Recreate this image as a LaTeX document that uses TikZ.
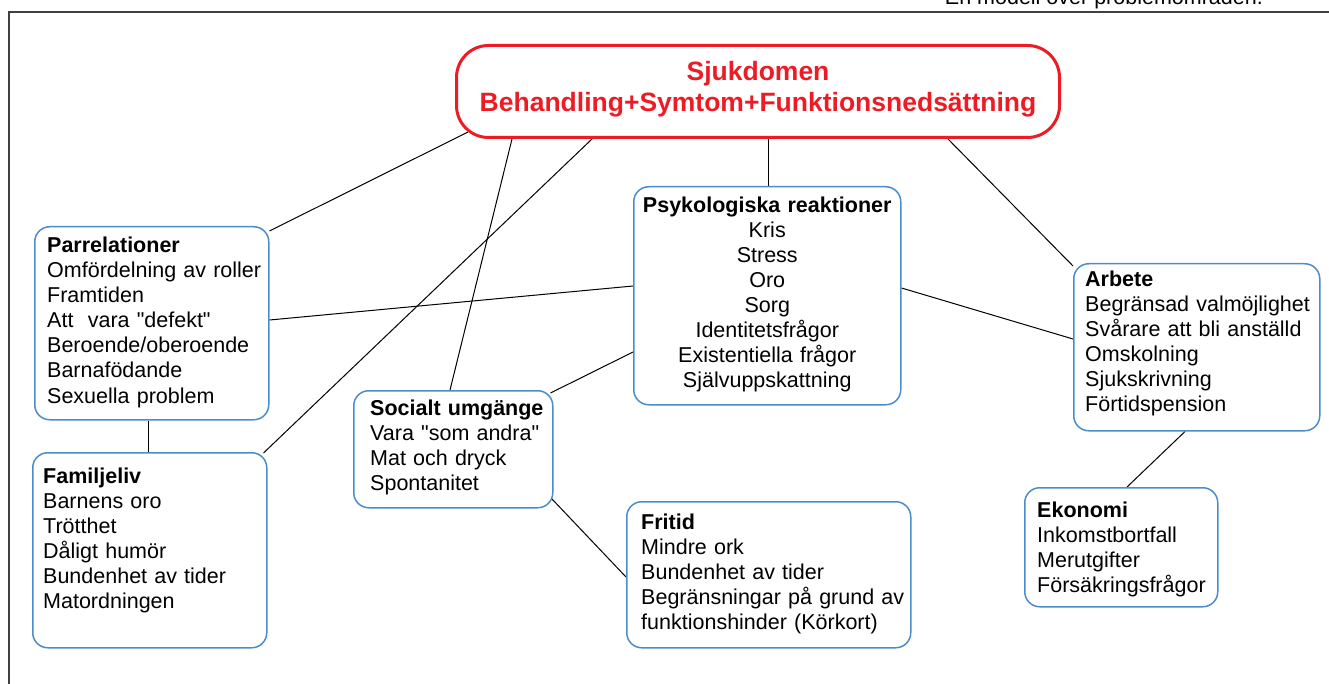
\documentclass[tikz,border=0pt]{standalone}
\usepackage{fontspec}
\setmainfont{Liberation Sans}
\usetikzlibrary{positioning}
\usetikzlibrary{backgrounds}
\definecolor{omradec}{RGB}{74,140,204}
\definecolor{sjukc}{RGB}{237,28,36}
\definecolor{ramc}{RGB}{64,64,64}

\tikzset{
  omrade/.style={anchor=north west, draw=omradec, line width=1.5pt, fill=white, shape=rectangle, rounded corners=15pt, inner sep=0pt},
  omradetxt/.style={anchor=base west, inner sep=0pt, text width=300pt, align=left, font=\fontsize{21.5}{25}\selectfont},
  lank/.style={draw=black, line width=1pt}
}

\begin{document}
\begin{tikzpicture}[x=1pt,y=-1pt]
\useasboundingbox (0,0) rectangle (1329,684);
\clip (0,0) rectangle (1329,684);

\draw[ramc, line width=1.5pt] (9,700) |- (1340,12);
\node[anchor=base east, inner sep=0pt, font=\fontsize{21.5}{25}\selectfont] (rubrik) at (1263,5) {En modell över problemområden.};

\node[anchor=north west, draw=sjukc, line width=3pt, fill=white, rounded corners=32pt, inner sep=0pt, minimum width=603pt, minimum height=92pt]
(sjukdom) at (455,44) {};
\node[anchor=base, inner sep=0pt, text width=600pt, align=center, text=sjukc, font=\bfseries\fontsize{26.5}{31}\selectfont]
(sjukdomtxt) at ([shift={(0,37)}]sjukdom.north) {Sjukdomen\\Behandling+Symtom+Funktionsnedsättning};

\node[omrade, minimum width=267pt, minimum height=218pt] (psyk) at (633,186) {};
\node[anchor=base, inner sep=0pt, text width=267pt, align=center, font=\fontsize{21.5}{25}\selectfont]
(psyktxt) at ([shift={(0,27)}]psyk.north) {\textbf{Psykologiska reaktioner}\\Kris\\Stress\\Oro\\Sorg\\Identitetsfrågor\\Existentiella frågor\\Självuppskattning};

\node[omrade, minimum width=234pt, minimum height=193pt] (parrel) at (34,226) {};
\node[omradetxt] (parreltxt) at ([shift={(13,27)}]parrel.north west)
{\textbf{Parrelationer}\\Omfördelning av roller\\Framtiden\\Att\ \ vara \textquotedbl defekt\textquotedbl\\Beroende/oberoende\\Barnafödande\\Sexuella problem};

\node[omrade, minimum width=234pt, minimum height=195pt] (famil) at (32,452) {};
\node[omradetxt] (familtxt) at ([shift={(11,31)}]famil.north west)
{\textbf{Familjeliv}\\Barnens oro\\Trötthet\\Dåligt humör\\Bundenhet av tider\\Matordningen};

\node[omrade, minimum width=199pt, minimum height=117pt] (social) at (353,390) {};
\node[omradetxt] (socialtxt) at ([shift={(17,25)}]social.north west)
{\textbf{Socialt umgänge}\\Vara \textquotedbl som andra\textquotedbl\\Mat och dryck\\Spontanitet};

\node[omrade, minimum width=284pt, minimum height=146pt] (fritid) at (626,501) {};
\node[omradetxt] (fritidtxt) at ([shift={(15,28)}]fritid.north west)
{\textbf{Fritid}\\Mindre ork\\Bundenhet av tider\\Begränsningar på grund av\\funktionshinder (Körkort)};

\node[omrade, minimum width=246pt, minimum height=167pt] (arbete) at (1073,263) {};
\node[omradetxt] (arbetetxt) at ([shift={(12,24)}]arbete.north west)
{\textbf{Arbete}\\Begränsad valmöjlighet\\Svårare att bli anställd\\Omskolning\\Sjukskrivning\\Förtidspension};

\node[omrade, minimum width=193pt, minimum height=119pt] (ekonomi) at (1024,487) {};
\node[omradetxt] (ekonomitxt) at ([shift={(13,30)}]ekonomi.north west)
{\textbf{Ekonomi}\\Inkomstbortfall\\Merutgifter\\Försäkringsfrågor};

\begin{scope}[on background layer]
\draw[lank] ([shift={(0,5)}]parrel.north east) -- ([shift={(13,-7)}]sjukdom.south west);
\draw[lank] ([shift={(97,0)}]social.north west) -- ([shift={(57,0)}]sjukdom.south west);
\draw[lank] ([shift={(-4,1)}]famil.north east) -- ([shift={(137,0)}]sjukdom.south west);
\draw[lank] ([shift={(1,0)}]psyk.north) -- ([shift={(1,0)}]psyk.north |- sjukdom.south);
\draw[lank] ([shift={(493,0)}]sjukdom.south west) -- ([shift={(0,3)}]arbete.north west);
\draw[lank] ([shift={(0,100)}]psyk.north west) -- ([shift={(0,94)}]parrel.north east);
\draw[lank] ([shift={(0,166)}]psyk.north west) -- ([shift={(-3,3)}]social.north east);
\draw[lank] ([shift={(0,102)}]psyk.north east) -- ([shift={(0,76)}]arbete.north west);
\draw[lank] ([shift={(114,0)}]parrel.south west) coordinate (pf) -- (pf |- famil.north);
\draw[lank] ([shift={(-2,-10)}]social.south east) -- ([shift={(0,76)}]fritid.north west);
\draw[lank] ([shift={(112,0)}]arbete.south west) -- ([shift={(103,0)}]ekonomi.north west);
\end{scope}
\end{tikzpicture}
\end{document}
